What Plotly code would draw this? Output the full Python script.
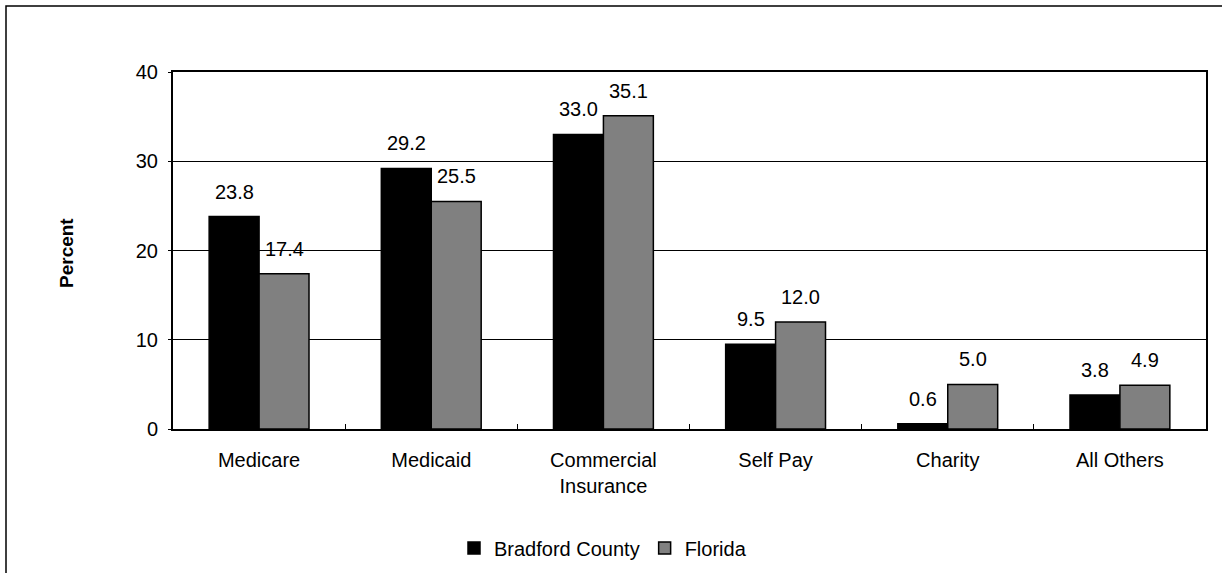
import plotly.graph_objects as go

categories = ["Medicare", "Medicaid", "Commercial<br>Insurance", "Self Pay", "Charity", "All Others"]
bradford = [23.8, 29.2, 33.0, 9.5, 0.6, 3.8]
florida = [17.4, 25.5, 35.1, 12.0, 5.0, 4.9]
series_names = ["Bradford County", "Florida"]

W, H = 1222, 573
L, R, T, B = 173, 16, 72, 144
pw, ph = W - L - R, H - T - B
bargap = 0.42
half_bar = (1 - bargap) / 4 * pw / len(categories)  # pixel offset of each bar's centre

fig = go.Figure()
fig.add_trace(go.Bar(x=categories, y=bradford, name=series_names[0],
                     marker=dict(color="black", line=dict(color="black", width=1.5))))
fig.add_trace(go.Bar(x=categories, y=florida, name=series_names[1],
                     marker=dict(color="#808080", line=dict(color="black", width=1.5))))

# data labels sit a little above the bars
for vals, shift in [(bradford, -half_bar), (florida, half_bar)]:
    for c, v in zip(categories, vals):
        fig.add_annotation(x=c, y=v, text=f"{v:.1f}", showarrow=False,
                           xanchor="center", yanchor="bottom", xshift=shift, yshift=12,
                           font=dict(size=20, color="black"))

fig.add_annotation(xref="paper", yref="paper", x=(66 - L) / pw, y=(H - B - 253) / ph,
                   text="<b>Percent</b>", textangle=-90, showarrow=False,
                   xanchor="center", yanchor="middle", font=dict(size=19, color="black"))

fig.update_layout(
    width=W, height=H,
    margin=dict(l=L, r=R, t=T, b=B, autoexpand=False),
    paper_bgcolor="white", plot_bgcolor="white",
    font=dict(family="Liberation Sans, Arial", size=20, color="black"),
    barmode="group", bargap=bargap, bargroupgap=0,
    showlegend=True,
    legend=dict(orientation="h", x=(603 - L) / pw, xanchor="center",
                y=(H - B - 548) / ph, yanchor="middle",
                font=dict(size=20), traceorder="normal", itemwidth=30,
                tracegroupgap=0),
)

fig.update_xaxes(showline=True, linecolor="black", linewidth=2, mirror=True,
                 ticks="inside", tickson="boundaries", ticklen=5, tickcolor="black",
                 tickfont=dict(size=20), automargin=False, ticklabelstandoff=12)
fig.update_yaxes(range=[0, 40], dtick=10, showline=True, linecolor="black", linewidth=2,
                 mirror=True, showgrid=True, gridcolor="black", gridwidth=1,
                 ticks="outside", ticklen=3, tickcolor="black", zeroline=False,
                 tickfont=dict(size=20), automargin=False, ticklabelstandoff=6)

# outer chart border
fig.add_shape(type="rect", xref="paper", yref="paper",
              x0=(6 - L) / pw, x1=1.2, y0=-0.6, y1=1 + (T - 6) / ph,
              line=dict(color="black", width=1.5), layer="below")

fig.write_html("out.html", config={"displayModeBar": False},
               post_script="document.body.style.margin='0';")
